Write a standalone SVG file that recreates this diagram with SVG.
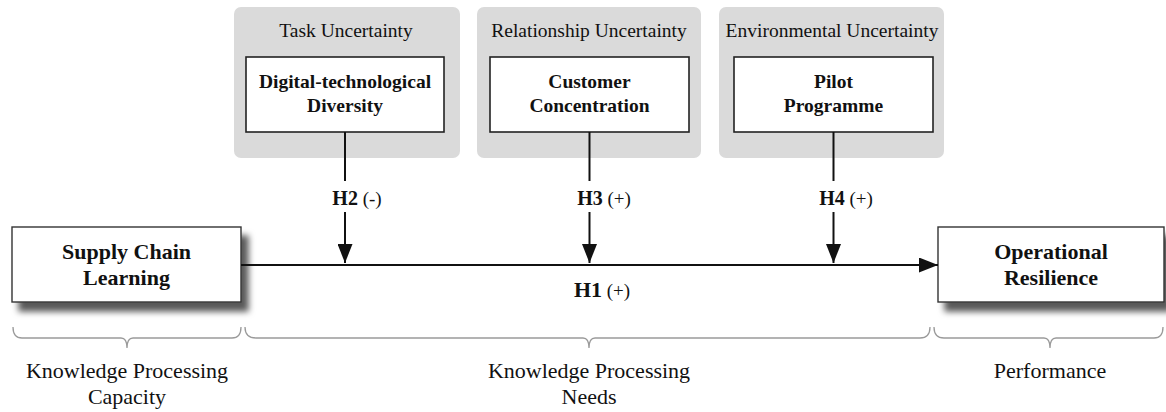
<svg xmlns="http://www.w3.org/2000/svg" width="1166" height="412" viewBox="0 0 1166 412">
<defs>
<filter id="shadow" x="-10%" y="-20%" width="130%" height="150%">
<feDropShadow dx="7" dy="9" stdDeviation="3.2" flood-color="#000" flood-opacity="0.65"/>
</filter>
<marker id="arrow" viewBox="0 0 19 15" refX="19" refY="7.5" markerWidth="19" markerHeight="15" markerUnits="userSpaceOnUse" orient="auto">
<path d="M0,0 L19,7.5 L0,15 Z" fill="#111"/>
</marker>
<style>
text { font-family: "Liberation Serif", "Times New Roman", serif; fill: #111; text-anchor: middle; }
.grp { fill: #dadada; }
.box { fill: #fff; stroke: #222; stroke-width: 1.6; }
.main { fill: #fff; stroke: #333; stroke-width: 1.4; filter: url(#shadow); }
.hdr { font-size: 19.5px; }
.bold { font-size: 19.5px; font-weight: bold; }
.big { font-size: 22px; font-weight: bold; }
.hl { font-size: 20px; font-weight: bold; }
.sg { font-size: 19px; font-weight: normal; }
.lbl { font-size: 22px; }
.conn { stroke: #111; stroke-width: 2; fill: none; }
.brace { stroke: #9a9a9a; stroke-width: 1.3; fill: none; }
</style>
</defs>

<g id="task-uncertainty">
<rect class="grp" x="234" y="7" width="226" height="151" rx="7"/>
<text class="hdr" x="346" y="37">Task Uncertainty</text>
</g>
<g id="digital-technological-diversity">
<rect class="box" x="246" y="57" width="198" height="75"/>
<text class="bold" x="345" y="88">Digital-technological</text>
<text class="bold" x="345" y="112">Diversity</text>
</g>

<g id="relationship-uncertainty">
<rect class="grp" x="477" y="7" width="224" height="151" rx="7"/>
<text class="hdr" x="589" y="37">Relationship Uncertainty</text>
</g>
<g id="customer-concentration">
<rect class="box" x="490" y="57" width="199" height="75"/>
<text class="bold" x="589.5" y="88">Customer</text>
<text class="bold" x="589.5" y="112">Concentration</text>
</g>

<g id="environmental-uncertainty">
<rect class="grp" x="719" y="7" width="225" height="151" rx="7"/>
<text class="hdr" x="832" y="37">Environmental Uncertainty</text>
</g>
<g id="pilot-programme">
<rect class="box" x="734" y="57" width="199" height="75"/>
<text class="bold" x="833.5" y="88">Pilot</text>
<text class="bold" x="833.5" y="112">Programme</text>
</g>

<g id="supply-chain-learning">
<rect class="main" x="12" y="227" width="229" height="75"/>
<text class="big" x="126.5" y="259">Supply Chain</text>
<text class="big" x="126.5" y="285">Learning</text>
</g>

<g id="operational-resilience">
<rect class="main" x="938" y="227" width="226" height="75"/>
<text class="big" x="1051" y="259">Operational</text>
<text class="big" x="1051" y="285">Resilience</text>
</g>

<g id="connectors">
<line class="conn" x1="241" y1="265" x2="938" y2="265" marker-end="url(#arrow)"/>
<line class="conn" x1="345" y1="132" x2="345" y2="181"/>
<line class="conn" x1="345" y1="212" x2="345" y2="263" marker-end="url(#arrow)"/>
<line class="conn" x1="589.5" y1="132" x2="589.5" y2="181"/>
<line class="conn" x1="589.5" y1="212" x2="589.5" y2="263" marker-end="url(#arrow)"/>
<line class="conn" x1="833.5" y1="132" x2="833.5" y2="181"/>
<line class="conn" x1="833.5" y1="212" x2="833.5" y2="263" marker-end="url(#arrow)"/>
<text x="357" y="205"><tspan class="hl">H2</tspan><tspan class="sg"> (-)</tspan></text>
<text x="604" y="205"><tspan class="hl">H3</tspan><tspan class="sg"> (+)</tspan></text>
<text x="846" y="205"><tspan class="hl">H4</tspan><tspan class="sg"> (+)</tspan></text>
<text x="602" y="297"><tspan class="big">H1</tspan><tspan class="sg"> (+)</tspan></text>
</g>

<g id="braces">
<path class="brace" d="M13,327 Q13,338 22,338 L121,338 Q127,338 127,348 Q127,338 133,338 L232,338 Q241,338 241,327"/>
<path class="brace" d="M245,327 Q245,338 256,338 L583,338 Q589,338 589,348 Q589,338 595,338 L920,338 Q930,338 930,327"/>
<path class="brace" d="M934,327 Q934,338 944,338 L1044,338 Q1050,338 1050,348 Q1050,338 1056,338 L1154,338 Q1163,338 1163,327"/>
</g>

<g id="knowledge-processing-capacity">
<text class="lbl" x="127" y="378">Knowledge Processing</text>
<text class="lbl" x="127" y="404">Capacity</text>
</g>
<g id="knowledge-processing-needs">
<text class="lbl" x="589" y="378">Knowledge Processing</text>
<text class="lbl" x="589" y="404">Needs</text>
</g>
<g id="performance">
<text class="lbl" x="1050" y="378">Performance</text>
</g>
</svg>
